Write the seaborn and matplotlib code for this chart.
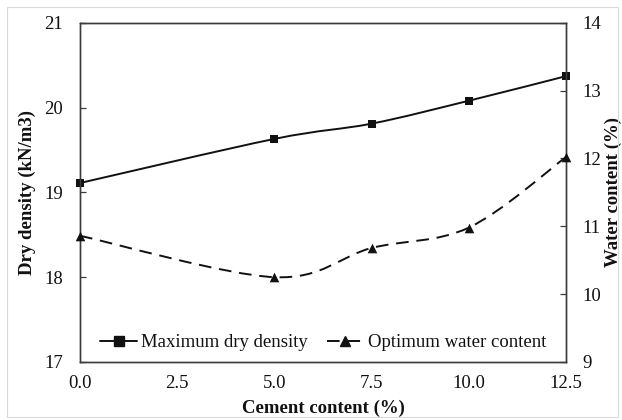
import numpy as np
import pandas as pd
import seaborn as sns
import matplotlib.pyplot as plt
from matplotlib.path import Path
from matplotlib.patches import PathPatch, Rectangle
from matplotlib.lines import Line2D

# Compaction test results
cement_content = [0.0, 5.0, 7.5, 10.0, 12.5]
max_dry_density = [19.11, 19.63, 19.81, 20.08, 20.37]
optimum_water = [10.86, 10.25, 10.68, 10.98, 12.02]
x_ticks = [0.0, 2.5, 5.0, 7.5, 10.0, 12.5]
x_tick_labels = ["0.0", "2.5", "5.0", "7.5", "10.0", "12.5"]
left_ticks = [17, 18, 19, 20, 21]
right_ticks = [9, 10, 11, 12, 13, 14]

sns.set_theme(style="white")
plt.rcParams["font.family"] = ["Liberation Serif", "DejaVu Serif"]

FS = 13.5
INK = "#111111"
SPINE = "#3c3c3c"

df = pd.DataFrame({"cement": cement_content,
                   "density": max_dry_density,
                   "water": optimum_water})


def smooth_path(xs, ys):
    """Cubic Bezier path through the points (Catmull-Rom style tangents)."""
    pts = np.column_stack([xs, ys]).astype(float)
    n = len(pts)
    verts = [pts[0]]
    codes = [Path.MOVETO]
    for i in range(n - 1):
        p0 = pts[i - 1] if i > 0 else pts[i]
        p1 = pts[i]
        p2 = pts[i + 1]
        p3 = pts[i + 2] if i + 2 < n else pts[i + 1]
        c1 = p1 + (p2 - p0) / 6.0
        c2 = p2 - (p3 - p1) / 6.0
        verts += [c1, c2, p2]
        codes += [Path.CURVE4] * 3
    return Path(verts, codes)


fig = plt.figure(figsize=(6.22, 4.2), dpi=100)
fig.patch.set_facecolor("white")
fig.add_artist(Rectangle((7 / 622, 3 / 420), 611 / 622, 410 / 420,
                         transform=fig.transFigure, fill=False,
                         edgecolor="#d9d9d9", linewidth=0.8))

ax = fig.add_axes([80 / 622, 1 - 362 / 420, 486 / 622, 339.3 / 420])
ax2 = ax.twinx()

# Maximum dry density (left axis)
ax.add_patch(PathPatch(smooth_path(df["cement"], df["density"]),
                       facecolor="none", edgecolor=INK, linewidth=1.4,
                       clip_on=False))
sns.scatterplot(data=df, x="cement", y="density", ax=ax, marker="s",
                s=38, color=INK, linewidth=0, clip_on=False, zorder=5,
                legend=False)

# Optimum water content (right axis)
ax2.add_patch(PathPatch(smooth_path(df["cement"], df["water"]),
                        facecolor="none", edgecolor=INK, linewidth=1.4,
                        linestyle=(0, (6.5, 4)), clip_on=False))
sns.scatterplot(data=df, x="cement", y="water", ax=ax2, marker="^",
                s=48, color=INK, linewidth=0, clip_on=False, zorder=5,
                legend=False)

ax.set_xlim(0, 12.5)
ax.set_ylim(17, 21)
ax2.set_ylim(9, 14)
ax.set_xticks(x_ticks)
ax.set_xticklabels(x_tick_labels)
ax.set_yticks(left_ticks)
ax2.set_yticks(right_ticks)

for a in (ax, ax2):
    for sp in a.spines.values():
        sp.set_visible(True)
        sp.set_color(SPINE)
        sp.set_linewidth(1.0)
    a.tick_params(direction="in", length=4, width=0.9, color=SPINE,
                  labelsize=FS, labelcolor=INK, pad=12)
    a.grid(False)

ax.tick_params(axis="x", pad=9)
ax.set_xlabel("Cement content (%)", fontsize=FS, fontweight="bold",
              color=INK, labelpad=6)
ax.set_ylabel("Dry density (kN/m3)", fontsize=FS, fontweight="bold",
              color=INK, labelpad=6)
ax2.set_ylabel("Water content (%)", fontsize=FS, fontweight="bold",
               color=INK, labelpad=2)

handles = [
    Line2D([], [], color=INK, linewidth=1.4, marker="s", markersize=6.5),
    Line2D([], [], color=INK, linewidth=1.4, linestyle=(0, (6.5, 4)),
           marker="^", markersize=7.5),
]
ax.legend(handles, ["Maximum dry density", "Optimum water content"],
          loc="center", bbox_to_anchor=(0.5, 0.057), ncol=2, frameon=False,
          fontsize=FS, handlelength=2.0, handletextpad=0.2,
          columnspacing=1.0, labelcolor=INK)

fig.savefig("out.png", dpi=100, facecolor="white")
